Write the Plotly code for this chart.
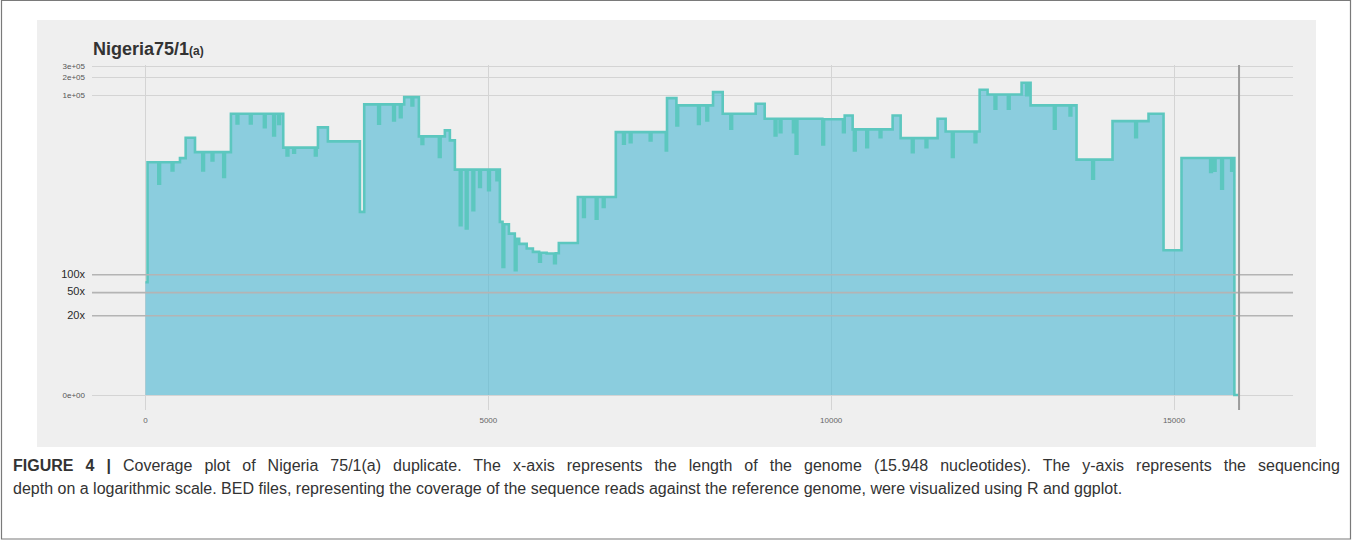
import plotly.graph_objects as go

# ---------------- data ----------------
GENOME_LENGTH = 15948

position_nt = [0, 30, 187, 212, 382, 407, 503, 586, 722, 828, 853, 965, 990, 1134, 1159,
               1246, 1329, 1354, 1523, 1548, 1727, 1752, 1863, 1888, 1936, 1961, 2009, 2058,
               2083, 2155, 2180, 2471, 2496, 2515, 2660, 3127, 3190, 3394, 3419, 3612, 3637,
               3710, 3735, 3773, 3880, 3905, 3987, 4026, 4051, 4279, 4304, 4366, 4439, 4512,
               4584, 4609, 4672, 4697, 4769, 4794, 4866, 4891, 4997, 5022, 5119, 5144, 5168,
               5207, 5232, 5300, 5386, 5411, 5450, 5560, 5650, 5741, 5766, 5850, 5959, 5984,
               6028, 6305, 6382, 6407, 6567, 6592, 6670, 6695, 6859, 6965, 6990, 7063, 7088,
               7354, 7379, 7588, 7606, 7743, 7768, 8058, 8083, 8180, 8205, 8277, 8418, 8530,
               8555, 8899, 9030, 9176, 9201, 9249, 9274, 9443, 9468, 9482, 9507, 9871, 9896,
               10172, 10197, 10313, 10332, 10357, 10512, 10537, 10707, 10732, 10896, 11013,
               11177, 11202, 11377, 11402, 11552, 11669, 11761, 11786, 12092, 12117, 12165,
               12281, 12383, 12408, 12577, 12602, 12777, 12845, 12870, 12908, 13248, 13273,
               13477, 13502, 13578, 13807, 13832, 14103, 14434, 14459, 14628, 14847, 15109,
               15527, 15552, 15580, 15605, 15688, 15713, 15834, 15859, 15880, 15948]

depth_x = [75, 7600, 3340, 7600, 5570, 7600, 8900, 19500, 11200, 5570, 11200, 8170, 11200, 4300, 11200,
           49000, 33700, 49000, 33700, 49000, 29300, 49000, 21300, 49000, 33000, 49000, 13300, 9900,
           13300, 11000, 13300, 9900, 13300, 29000, 16900, 1130, 70000, 33300, 70000, 37800, 70000,
           43000, 70000, 92500, 67300, 92500, 20500, 15400, 20500, 9300, 20500, 25800, 17600, 5720,
           675, 5720, 595, 5720, 1200, 5720, 2940, 5720, 2590, 5720, 3830, 5720, 770,
           136, 700, 490, 120, 400, 330, 276, 242, 166, 235, 228, 157, 230,
           342, 2000, 930, 2000, 870, 2000, 1360, 2000, 24150, 15500, 24150, 16400, 24150,
           17600, 24150, 12000, 89000, 31200, 67300, 33000, 67300, 37800, 67300, 112000, 49000, 27500,
           49000, 71800, 40400, 21300, 40400, 24150, 40400, 24000, 40400, 10560, 40400, 15100, 39500,
           24150, 45800, 26800, 12000, 26800, 13600, 26800, 19800, 26800, 45800, 19200,
           11200, 19200, 13600, 19200, 40400, 24800, 9300, 24800, 16400, 24800, 122800,
           102500, 59300, 102500, 59300, 102500, 160600, 100000, 160600, 67300, 27500, 67300,
           45800, 67300, 8390, 4050, 8390, 36800, 19800, 36800, 49000, 258, 8920,
           5210, 8920, 5500, 8920, 2760, 8920, 5500, 8920, 0, 0]

thresholds_x = [20, 50, 100]
y_tick_depths = [0, 20, 50, 100, 100000, 200000, 300000]
y_tick_labels = ["0e+00", "20x", "50x", "100x", "1e+05", "2e+05", "3e+05"]
x_tick_vals = [0, 5000, 10000, 15000]

TITLE = "Nigeria75/1"
TITLE_SUB = "(a)"
CAPTION_1 = ("<b>FIGURE 4 |</b> Coverage plot of Nigeria 75/1(a) duplicate. The x-axis represents the length "
             "of the genome (15.948 nucleotides). The y-axis represents the sequencing")
CAPTION_2 = ("depth on a logarithmic scale. BED files, representing the coverage of the sequence reads "
             "against the reference genome, were visualized using R and ggplot.")

# ---------------- layout geometry (pixels) ----------------
W, H = 1352, 540
PL, PR, PT, PB = 92, 1293, 65, 410   # plot area


def px_x(p):
    return (p - PL) / (PR - PL)


def px_y(p):
    return (PB - p) / (PB - PT)


FONT = "Liberation Sans, Arial, Helvetica, sans-serif"

# pseudo-log: depth + 1 on a log axis
y_plot = [d + 1 for d in depth_x]


def tick_text(lbl):
    if lbl.endswith("x"):
        return '<span style="font-size:11px;color:#2a2a2a">%s</span>' % lbl
    return lbl


fig = go.Figure()
fig.add_trace(go.Scatter(x=[0, GENOME_LENGTH], y=[1, 1], mode="lines",
                         line=dict(width=0, color="rgba(0,0,0,0)"),
                         hoverinfo="skip", showlegend=False))
fig.add_trace(go.Scatter(x=position_nt, y=y_plot, mode="lines",
                         line=dict(color="#5cc7bf", width=2.6, shape="hv"),
                         fill="tonexty", fillcolor="rgba(77,184,212,0.62)",
                         showlegend=False))

for t in thresholds_x:
    fig.add_hline(y=t + 1, line=dict(color="#b4b4b4", width=1.6), layer="above")
fig.add_vline(x=GENOME_LENGTH, line=dict(color="#9c9c9c", width=2), layer="above")

# gray panel and outer frame
fig.add_shape(type="rect", xref="paper", yref="paper",
              x0=px_x(37), x1=px_x(1316), y0=px_y(447), y1=px_y(20),
              fillcolor="#efefef", line=dict(width=0), layer="below")
fig.add_shape(type="rect", xref="paper", yref="paper",
              x0=px_x(1.5), x1=px_x(1350.5), y0=px_y(539), y1=px_y(0.5),
              fillcolor="rgba(0,0,0,0)", line=dict(color="#7a7a7a", width=1.2), layer="above")

# title
fig.add_annotation(xref="paper", yref="paper", x=px_x(91), y=px_y(49), xanchor="left", yanchor="middle",
                   text="<b>%s<span style=\"font-size:12px\">%s</span></b>" % (TITLE, TITLE_SUB),
                   showarrow=False, font=dict(family=FONT, size=18, color="#333333"))
# caption (first line justified in the original -> wider word spacing)
fig.add_annotation(xref="paper", yref="paper", x=px_x(11), y=px_y(465), xanchor="left", yanchor="middle",
                   text='<span style="word-spacing:7.6px">%s</span>' % CAPTION_1, showarrow=False,
                   font=dict(family=FONT, size=16, color="#333333"))
fig.add_annotation(xref="paper", yref="paper", x=px_x(11), y=px_y(488), xanchor="left", yanchor="middle",
                   text=CAPTION_2, showarrow=False,
                   font=dict(family=FONT, size=16, color="#333333"))

fig.update_layout(
    width=W, height=H,
    margin=dict(l=PL, r=W - PR, t=PT, b=H - PB, pad=0),
    paper_bgcolor="white", plot_bgcolor="#efefef",
    showlegend=False,
    xaxis=dict(range=[-780, 16735], tickmode="array", tickvals=x_tick_vals,
               ticktext=[str(v) for v in x_tick_vals],
               showgrid=True, gridcolor="#d4d4d4", gridwidth=1, zeroline=False, showline=False,
               ticks="", ticklabelstandoff=4, tickfont=dict(family=FONT, size=8, color="#666666")),
    yaxis=dict(type="log", range=[-0.25, 5.502], tickmode="array",
               tickvals=[d + 1 for d in y_tick_depths],
               ticktext=[tick_text(l) for l in y_tick_labels],
               showgrid=True, gridcolor="#d4d4d4", gridwidth=1.2, zeroline=False, showline=False,
               ticks="", ticklabelstandoff=6, tickfont=dict(family=FONT, size=8, color="#555555")),
)

fig.write_html("out.html", config={"displayModeBar": False},
               post_script="document.body.style.margin='0';")
